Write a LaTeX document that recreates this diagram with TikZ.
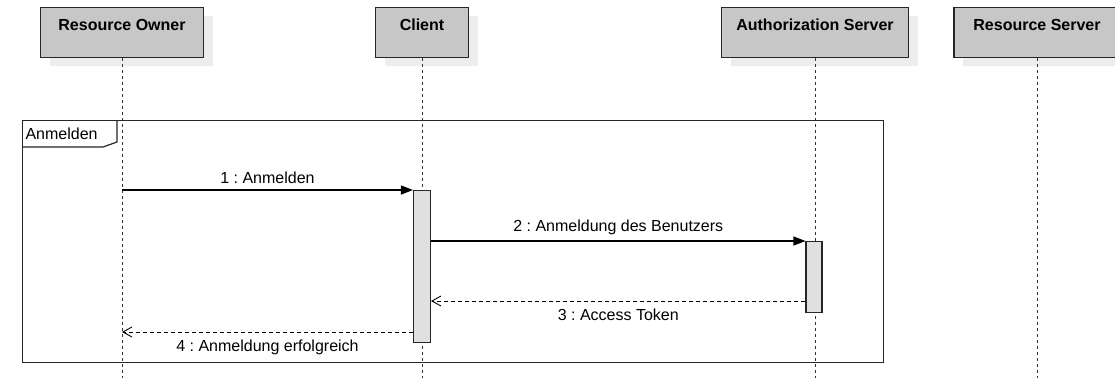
\documentclass[tikz,border=0pt]{standalone}
\usepackage{fontspec}
\setmainfont{Liberation Sans}
\usetikzlibrary{arrows.meta,shadows}
\frenchspacing

\begin{document}
\begin{tikzpicture}[x=1pt, y=-1pt, font=\fontsize{16}{19}\selectfont,
		role/.style={draw=black!85, fill=black!22, line width=1.2pt, anchor=north, minimum height=50pt, inner ysep=11pt, text height=12pt, text depth=16pt, font=\fontsize{16}{19}\selectfont\bfseries, drop shadow={shadow xshift=9pt, shadow yshift=-8pt, fill=black!7, opacity=1}},
		lifeline/.style={draw=black!80, line width=1pt, dash pattern=on 3pt off 3pt},
		bar/.style={draw=black!85, fill=black!12, line width=1.1pt, anchor=north, minimum width=17pt, inner sep=0pt},
		msg/.style={-{Triangle[length=12pt, width=9pt]}, line width=1.1pt},
		reply/.style={-{Straight Barb[length=9pt, width=10pt, line width=0.9pt]}, line width=0.9pt, dash pattern=on 4pt off 3pt},
		frameline/.style={draw=black!85, line width=1.2pt}]
		\useasboundingbox (0,0) rectangle (1115,378);
		
		\node [role, minimum width=163pt] (owner) at (122,7) {Resource Owner};
		\node [role, minimum width=93pt] (client) at (422,7) {Client};
		\node [role, minimum width=187pt] (authsrv) at (815,7) {Authorization Server};
		\node [role, minimum width=166pt] (ressrv) at (1037,7) {Resource Server};
		
		\coordinate (bottom) at (0,378);
		\foreach \r in {owner, client, authsrv, ressrv}
			\draw [lifeline] (\r.south) -- (\r.south |- bottom);
		
		\node [frameline, anchor=north west, minimum width=861pt, minimum height=242pt] (frame) at (22,120) {};
		\draw [frameline] (frame.north west) ++(0,27) -- ++(81,0) -- ++(14,-5) -- ++(0,-22);
		\node [anchor=west] (frametag) at ([yshift=-13.5pt]frame.north west) {Anmelden};
		
		\node [bar, minimum height=152pt] (clientbar) at (422,190) {};
		\node [bar, minimum height=71pt, minimum width=16pt] (authbar) at (814,241) {};
		
		\coordinate (tok) at (0,301);
		\coordinate (ok) at (0,332);
		
		\draw [msg] (owner |- clientbar.north) -- (clientbar.north west) node [midway, above=2.5pt] {1 : Anmelden};
		\draw [msg] (clientbar.east |- authbar.north) -- (authbar.north west) node [midway, above=2.5pt] {2 : Anmeldung des Benutzers};
		\draw [reply] (authbar.west |- tok) -- (clientbar.east |- tok) node [midway, below=4pt] {3 : Access Token};
		\draw [reply] (clientbar.west |- ok) -- (owner |- ok) node [midway, below=4pt] {4 : Anmeldung erfolgreich};
	\end{tikzpicture}
\end{document}
